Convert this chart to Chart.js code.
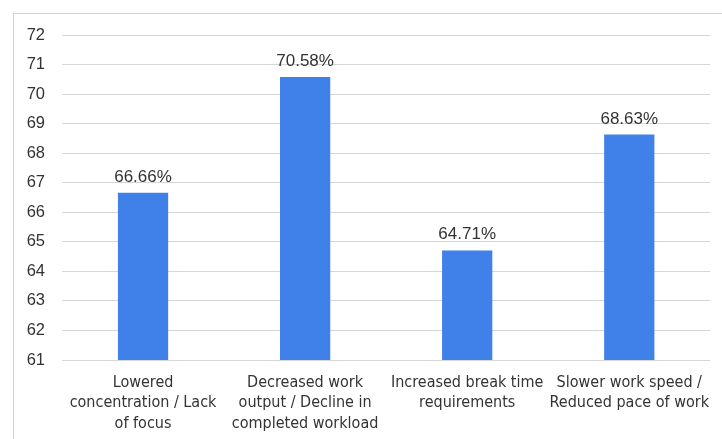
<!DOCTYPE html>
<html>
<head>
<meta charset="utf-8">
<script src="https://cdn.jsdelivr.net/npm/chart.js"></script>
<style>
  *{box-sizing:border-box;margin:0;padding:0}
  html,body{width:722px;height:439px;overflow:hidden;background:#fff}
  .frame{position:absolute;left:13px;top:13px;width:760px;height:480px;border:1px solid #d2d2d2}
  .wrap{position:absolute;left:0;top:0;width:722px;height:439px}
</style>
</head>
<body>
<div class="frame"></div>
<div class="wrap"><canvas id="chart"></canvas></div>
<script>
const categories = [
  ["Lowered", "concentration / Lack", "of focus"],
  ["Decreased work", "output / Decline in", "completed workload"],
  ["Increased break time", "requirements"],
  ["Slower work speed /", "Reduced pace of work"]
];
const values = [66.66, 70.58, 64.71, 68.63];
const yMin = 61, yMax = 72, yStep = 1;

const barColor = "#3f80e9";
const textColor = "#333333";

// value labels above each bar
const valueLabels = {
  id: "valueLabels",
  afterDatasetsDraw(chart) {
    const ctx = chart.ctx;
    const meta = chart.getDatasetMeta(0);
    ctx.save();
    ctx.font = "17px 'Liberation Sans', Arial, sans-serif";
    ctx.fillStyle = textColor;
    ctx.textAlign = "center";
    ctx.textBaseline = "alphabetic";
    meta.data.forEach((bar, i) => {
      ctx.fillText(values[i].toFixed(2) + "%", bar.x, bar.y - 11);
    });
    ctx.restore();
  }
};

new Chart(document.getElementById("chart"), {
  type: "bar",
  data: {
    labels: categories,
    datasets: [{ data: values, backgroundColor: barColor, categoryPercentage: 1, barPercentage: 0.31 }]
  },
  options: {
    responsive: true,
    maintainAspectRatio: false,
    animation: false,
    layout: { padding: { top: 35, right: 8, bottom: 0, left: 0 } },
    plugins: { legend: { display: false }, tooltip: { enabled: false } },
    scales: {
      x: {
        grid: { display: false, drawTicks: false },
        border: { display: false },
        afterFit(axis) { axis.height = 79; },
        ticks: {
          padding: 12,
          color: textColor,
          maxRotation: 0,
          autoSkip: false,
          font: { family: "'Liberation Sans Narrow', 'DejaVu Sans Condensed', sans-serif", size: 16, lineHeight: 1.3 }
        }
      },
      y: {
        min: yMin,
        max: yMax,
        grid: { color: "#d6d6d6", lineWidth: 1, drawTicks: false },
        border: { display: false },
        afterFit(axis) { axis.width = 62; },
        ticks: {
          stepSize: yStep,
          padding: 17,
          color: textColor,
          font: { family: "'Liberation Sans', Arial, sans-serif", size: 16.5 }
        }
      }
    }
  },
  plugins: [valueLabels]
});
</script>
</body>
</html>
